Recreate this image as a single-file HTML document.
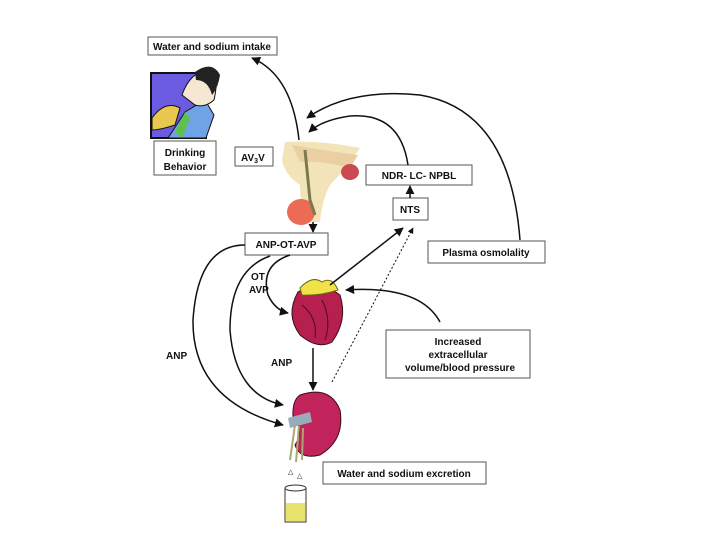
<!DOCTYPE html>
<html><head><meta charset="utf-8"><style>
html,body{margin:0;padding:0;background:#fff;width:720px;height:540px;overflow:hidden}
svg{display:block}
text{font-family:"Liberation Sans",Arial,sans-serif;font-weight:bold;font-size:10px;fill:#111}
</style></head><body>
<svg width="720" height="540" viewBox="0 0 720 540" xmlns="http://www.w3.org/2000/svg">
<defs>
<marker id="a" viewBox="0 0 10 10" refX="9" refY="5" markerWidth="6" markerHeight="6" orient="auto-start-reverse"><path d="M0,0L10,5L0,10z" fill="#111"/></marker>
</defs>
<!-- drinking image -->
<rect x="151" y="73" width="55" height="65" fill="#6b5be0" stroke="#111" stroke-width="2"/>
<path d="M168,138 L185,112 L205,100 L214,115 L206,138z" fill="#6fa3e6" stroke="#111"/>
<path d="M182,95 Q190,72 208,70 Q220,75 214,100 Q205,108 195,105z" fill="#f6e7d2" stroke="#111"/>
<path d="M195,72 Q212,60 220,75 Q218,88 212,95 Q208,80 196,80z" fill="#222"/>
<path d="M152,118 Q165,100 180,108 L175,125 Q160,130 152,130z" fill="#e8c850" stroke="#111"/>
<path d="M175,132 L185,112 L190,118 L182,138z" fill="#5ec24a"/>
<!-- brain image -->
<path d="M285,142 Q320,140 360,148 Q345,170 330,185 Q322,200 320,222 L305,222 Q300,200 300,185 Q285,175 282,160z" fill="#f2e3b8"/>
<path d="M292,145 Q320,150 358,155 L350,168 Q320,160 300,162z" fill="#e9cfa2"/>
<ellipse cx="350" cy="172" rx="9" ry="8" fill="#c94a50"/>
<ellipse cx="301" cy="212" rx="14" ry="13" fill="#ec6b55"/>
<path d="M305,150 L310,200 L315,215" stroke="#7a7a50" stroke-width="3" fill="none"/>
<!-- heart -->
<path d="M298,292 Q320,280 340,295 Q348,320 332,342 Q318,350 300,335 Q285,315 298,292z" fill="#b5204f" stroke="#3a0b1b"/>
<path d="M300,288 Q312,275 322,282 Q332,276 338,290 Q320,296 302,295z" fill="#f2e24a" stroke="#6b6a10"/>
<path d="M302,305 Q318,318 315,338 M322,300 Q332,320 325,340" stroke="#4b0c20" fill="none"/>
<!-- kidney -->
<path d="M300,395 Q330,385 340,410 Q345,440 320,455 Q300,460 295,445 Q305,430 293,418 Q292,400 300,395z" fill="#c0245a" stroke="#3a0b1b"/>
<path d="M288,418 L310,412 L312,422 L290,428z" fill="#9ab"/>
<path d="M295,425 L290,460 M299,426 L296,462 M303,428 L302,460" stroke="#a8a870" stroke-width="2" fill="none"/>
<text x="288" y="474" style="font-size:7px;font-weight:normal">△</text>
<text x="297" y="478" style="font-size:7px;font-weight:normal">△</text>
<!-- beaker -->
<rect x="285" y="488" width="21" height="34" fill="#fff" stroke="#333"/>
<rect x="286" y="503" width="19" height="18" fill="#e8e36a"/>
<ellipse cx="295.5" cy="488" rx="10.5" ry="3" fill="#fff" stroke="#333"/>
<!-- boxes -->
<g fill="#fff" stroke="#555" stroke-width="1">
<rect x="148" y="37" width="129" height="18"/>
<rect x="154" y="141" width="62" height="34"/>
<rect x="235" y="147" width="38" height="19"/>
<rect x="366" y="165" width="106" height="20"/>
<rect x="393" y="198" width="35" height="22"/>
<rect x="245" y="233" width="83" height="22"/>
<rect x="428" y="241" width="117" height="22"/>
<rect x="386" y="330" width="144" height="48"/>
<rect x="323" y="462" width="163" height="22"/>
</g>
<text x="212" y="50" text-anchor="middle">Water and sodium intake</text>
<text x="185" y="156" text-anchor="middle">Drinking</text>
<text x="185" y="170" text-anchor="middle">Behavior</text>
<text x="241" y="161">AV<tspan style="font-size:7px" dy="2">3</tspan><tspan dy="-2">V</tspan></text>
<text x="419" y="179" text-anchor="middle">NDR- LC- NPBL</text>
<text x="410" y="213" text-anchor="middle">NTS</text>
<text x="286" y="248" text-anchor="middle">ANP-OT-AVP</text>
<text x="486" y="256" text-anchor="middle">Plasma osmolality</text>
<text x="458" y="345" text-anchor="middle">Increased</text>
<text x="458" y="358" text-anchor="middle">extracellular</text>
<text x="460" y="371" text-anchor="middle">volume/blood pressure</text>
<text x="404" y="477" text-anchor="middle">Water and sodium excretion</text>
<text x="251" y="280">OT</text>
<text x="249" y="293">AVP</text>
<text x="166" y="359">ANP</text>
<text x="271" y="366">ANP</text>
<!-- arrows -->
<g stroke="#111" stroke-width="1.5" fill="none">
<path d="M299,140 Q292,75 252,58" marker-end="url(#a)"/>
<path d="M520,240 Q510,110 420,95 Q350,88 307,118" marker-end="url(#a)"/>
<path d="M408,165 Q400,112 350,116 Q322,120 309,132" marker-end="url(#a)"/>
<path d="M410,198 L410,186" marker-end="url(#a)"/>
<path d="M313,222 L313,232" marker-end="url(#a)"/>
<path d="M330,285 L403,228" marker-end="url(#a)"/>
<path d="M332,382 L413,228" stroke-dasharray="2,2" stroke-width="1" marker-end="url(#a)"/>
<path d="M440,322 Q420,285 346,290" marker-end="url(#a)"/>
<path d="M313,348 L313,390" marker-end="url(#a)"/>
<path d="M245,245 Q198,245 193,320 Q192,400 283,425" marker-end="url(#a)"/>
<path d="M270,256 Q230,270 230,330 Q235,395 283,405" marker-end="url(#a)"/>
<path d="M290,255 Q260,265 268,295 Q275,310 288,313" marker-end="url(#a)"/>
</g>
</svg>
</body></html>
